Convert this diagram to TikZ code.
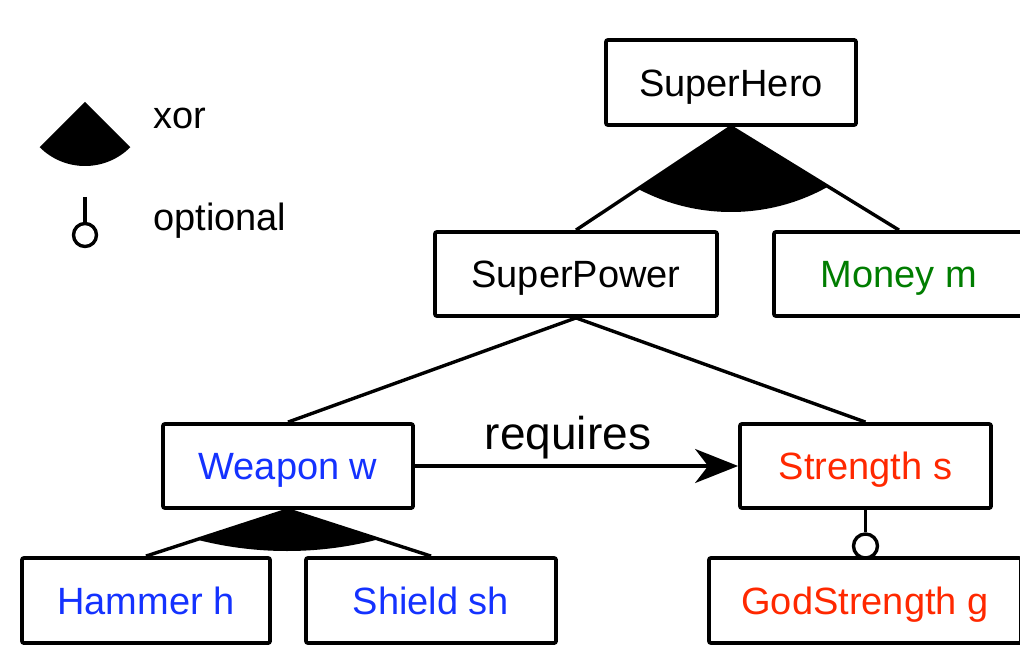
\documentclass[tikz,border=0pt]{standalone}
\usepackage{fontspec}
\setmainfont{Liberation Sans}
\usetikzlibrary{arrows.meta}
\definecolor{fblue}{RGB}{20,50,255}
\definecolor{fgreen}{RGB}{0,125,0}
\definecolor{fred}{RGB}{255,40,0}
\begin{document}
\begin{tikzpicture}[x=1pt,y=-1pt,
  feat/.style={draw, line width=3.8pt, rounded corners=2pt, minimum height=85pt, inner sep=0pt,
               text height=27.2pt, text depth=0pt, font=\fontsize{38}{46}\selectfont},
  conn/.style={line width=3.4pt},
  lbl/.style={inner sep=0pt, font=\fontsize{38}{46}\selectfont},
  optc/.style={draw, circle, fill=white, inner sep=0pt, line width=3.4pt}]
\useasboundingbox (0,0) rectangle (1020,655);
\clip (0,0) rectangle (1020,655);

% feature nodes
\node[feat, minimum width=250pt] (sh) at (731,82.5) {SuperHero};
\node[feat, minimum width=282pt, minimum height=84pt] (sp) at (576,274) {SuperPower};
\node[feat, minimum width=250pt, minimum height=84pt, text=fgreen] (mo) at (899,274) {Money m};
\node[feat, minimum width=250pt, minimum height=84pt, text=fblue] (we) at (288,466) {Weapon w};
\node[feat, minimum width=251pt, minimum height=84pt, text=fred] (st) at (865.5,466) {Strength s};
\node[feat, minimum width=248pt, text=fblue] (ha) at (146,600.5) {Hammer h};
\node[feat, minimum width=250pt, text=fblue] (si) at (431,600.5) {Shield sh};
\node[feat, minimum width=312pt, text=fred] (gs) at (865,600.5) {GodStrength g};

% connectors
\draw[conn] (sh.south) -- (sp.north);
\draw[conn] (sh.south) -- (mo.north);
\draw[conn] (sp.south) -- (we.north);
\draw[conn] (sp.south) -- (st.north);
\draw[conn] (we.south) -- (ha.north);
\draw[conn] (we.south) -- (si.north);

% xor wedges
\begin{scope}
  \clip (sh.south) -- (sp.north) -- (mo.north) -- cycle;
  \fill (731,14) circle[radius=198];
\end{scope}
\begin{scope}
  \clip (we.south) -- (ha.north) -- (si.north) -- cycle;
  \fill (287,191) circle[radius=360];
\end{scope}

% optional
\node[optc, minimum size=24pt] (oc) at (865.5,546) {};
\draw[conn] (st.south) -- (oc.north);

% requires
\draw[conn, -{Stealth[length=43pt,width=34pt,inset=13pt]}] (we.east) -- (st.west);
\node[inner sep=0pt, font=\fontsize{46}{54}\selectfont, anchor=base] (rq) at (568,449) {requires};

% legend
\fill (85,102) -- ++(135:64) arc[start angle=135,end angle=45,radius=64] -- cycle;
\node[lbl, anchor=base west] (lx) at (153,129) {xor};
\node[optc, minimum size=23pt] (lc) at (85,235) {};
\coordinate (lt) at (85,197);
\draw[conn] (lt) -- (lc.north);
\node[lbl, anchor=base west] (lo) at (153,230) {optional};
\end{tikzpicture}
\end{document}
